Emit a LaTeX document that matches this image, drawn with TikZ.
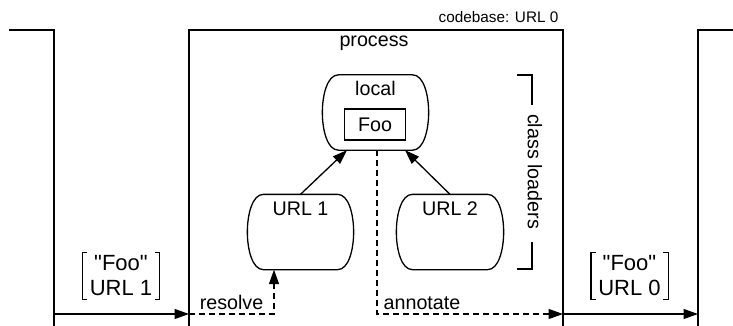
\documentclass[tikz,border=0pt]{standalone}
\usepackage{fontspec}
\setmainfont{Liberation Sans}
\usetikzlibrary{arrows.meta,calc}
\begin{document}
\begin{tikzpicture}[x=1pt,y=-1pt,line width=1.3pt,
  tip/.style={-{Triangle[length=14.5pt,width=10pt]}},
  dsh/.style={dash pattern=on 6pt off 4pt},
  capsule/.style={minimum width=105pt,minimum height=74pt,inner sep=0pt},
  lbl/.style={font=\fontsize{19.7}{23}\selectfont,inner sep=0pt},
  brk/.style={font=\fontsize{22}{25}\selectfont,align=center,inner sep=0pt,minimum width=76pt,minimum height=46pt}]
\useasboundingbox (0,0) rectangle (733,326);

% machine boundaries
\draw (9,30) -- (54,30) -- (54,326);
\draw (189,326) -- (189,30) -- (563,30) -- (563,326);
\draw (733,30) -- (698,30) -- (698,326);

\node[inner sep=0pt,font=\fontsize{15.3}{18}\selectfont,anchor=east] (cb) at (559,17) {codebase: URL 0};
\node[lbl] (proc) at (374,43) {process};

% class loaders
\node[capsule,label={[lbl,anchor=north,yshift=-5.5pt]north:local}] (local) at (375.5,112.5) {};
\node[capsule,label={[lbl,anchor=north,yshift=-6.5pt]north:URL 1}] (url1) at (300.5,232) {};
\node[capsule,minimum width=106pt,label={[lbl,anchor=north,yshift=-6.5pt]north:URL 2}] (url2) at (450,232) {};
\node[draw,lbl,minimum width=61pt,minimum height=31pt] (foo) at (375,124.5) {Foo};

\foreach \n in {local,url1,url2}{
  \draw ($(\n.north west)+(16,0)$) -- ($(\n.north east)+(-16,0)$)
    .. controls ($(\n.north east)+(-5,0)$) and ($(\n.north east)+(0,20)$) .. (\n.east)
    .. controls ($(\n.south east)+(0,-20)$) and ($(\n.south east)+(-5,0)$) .. ($(\n.south east)+(-16,0)$)
    -- ($(\n.south west)+(16,0)$)
    .. controls ($(\n.south west)+(5,0)$) and ($(\n.south west)+(0,-20)$) .. (\n.west)
    .. controls ($(\n.north west)+(0,20)$) and ($(\n.north west)+(5,0)$) .. ($(\n.north west)+(16,0)$) -- cycle;
}

\draw[tip] (url1.north) -- ($(local.south)+(-28.5,0)$);
\draw[tip] (url2.north) -- ($(local.south)+(29.5,0)$);

% class loaders bracket
\node[lbl,rotate=-90] (cl) at (535,171.5) {class loaders};
\draw (517,75) -- (532,75) -- (532,105);
\draw (532,242) -- (532,269) -- (517,269);

% flow
\coordinate (lout) at (54,314);
\coordinate (lin) at (189,314);
\coordinate (rin) at (563,314);
\coordinate (rout) at (698,314);

\draw[tip] (lout) -- (lin);
\draw[tip] (rin) -- (rout);
\draw[tip,dsh] (lin) -| ($(url1.south)+(-26.5,0)$);
\draw[tip,dsh] ($(local.south)+(1.5,0)$) |- (rin);

\node[lbl] (res) at (231.5,302) {resolve};
\node[lbl] (ann) at (422,303) {annotate};

% message labels
\node[brk] (m1) at (121,276) {\textquotedbl Foo\textquotedbl\\URL 1};
\node[brk] (m0) at (629.5,276) {\textquotedbl Foo\textquotedbl\\URL 0};
\foreach \m in {m1,m0}{
  \draw ($(\m.north west)+(5,0)$) -- (\m.north west) -- (\m.south west) -- ++(5,0);
  \draw ($(\m.north east)+(-5,0)$) -- (\m.north east) -- (\m.south east) -- ++(-5,0);
}
\end{tikzpicture}
\end{document}
